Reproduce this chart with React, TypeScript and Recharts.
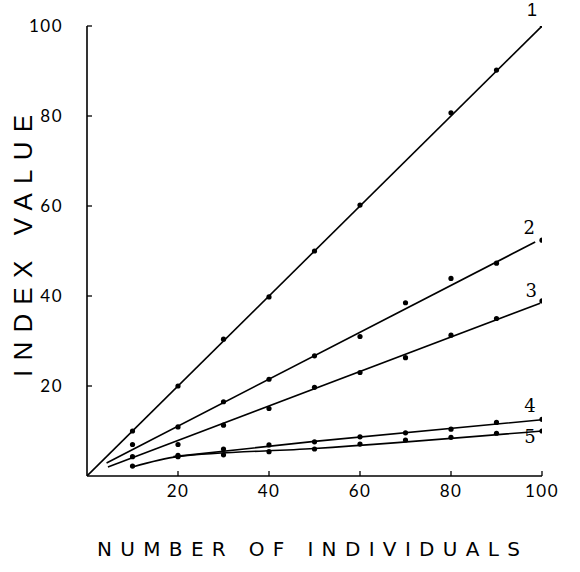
import { ComposedChart, Line, Scatter, XAxis, YAxis, Label, LabelList } from "recharts";

// sample sizes (number of individuals)
const sizes = [10, 20, 30, 40, 50, 60, 70, 80, 90, 100];

// observed index values per curve (null = no point drawn)
const index1 = [10.0, 20.0, 30.4, 39.8, 50.0, 60.2, null, 80.7, 90.2, 100.2];
const index2 = [7.0, 10.9, 16.5, 21.5, 26.7, 31.0, 38.5, 43.9, 47.3, 52.4];
const index3 = [4.3, 7.0, 11.3, 15.0, 19.7, 23.0, 26.3, 31.3, 35.0, 38.9];
const index4 = [null, 4.6, 6.0, 6.9, 7.6, 8.7, 9.6, 10.4, 11.9, 12.6];
const index5 = [2.2, 4.3, 4.7, 5.4, 6.0, 7.1, 8.0, 8.6, 9.5, 10.0];

// fitted curves
const fitX1 = [0, 100];
const fitY1 = [0, 100];
const fitX2 = [4.3, 98.5];
const fitY2 = [2.9, 52.0];
const fitX3 = [4.6, 99.6];
const fitY3 = [2.0, 38.4];
const fitX4 = [19, 50, 100];
const fitY4 = [4.3, 7.7, 12.5];
const fitX5 = [10, 20, 50, 100];
const fitY5 = [2.0, 4.3, 6.1, 10.0];

const curveNames = ["1", "2", "3", "4", "5"];
const xTicks = [20, 40, 60, 80, 100];
const yTicks = [20, 40, 60, 80, 100];

const toPoints = (vals: (number | null)[]) =>
  sizes
    .map((x, i) => ({ x, y: vals[i] }))
    .filter((p) => p.y !== null);

const toFit = (xs: number[], ys: number[]) => xs.map((x, i) => ({ x, y: ys[i] }));

const observed = [index1, index2, index3, index4, index5].map(toPoints);
const fits = [
  toFit(fitX1, fitY1),
  toFit(fitX2, fitY2),
  toFit(fitX3, fitY3),
  toFit(fitX4, fitY4),
  toFit(fitX5, fitY5),
];

// where each curve number sits relative to the curve's end
const labelOffsets = [
  { dx: -10, dy: -10 },
  { dx: -6, dy: -8 },
  { dx: -9, dy: -6 },
  { dx: -12, dy: -8 },
  { dx: -12, dy: 12 },
];

const dot = (props: any) => <circle cx={props.cx} cy={props.cy} r={2.6} fill="#000" />;

const tickStyle = { fill: "#000", fontSize: 17, fontFamily: "Lato", letterSpacing: 1.5 };

export default function App() {
  return (
    <div style={{ position: "absolute", left: 0, top: 0, background: "#fff" }}>
      <ComposedChart width={580} height={572} margin={{ top: 26, right: 38, bottom: 0, left: 0 }}>
        <XAxis
          type="number"
          dataKey="x"
          domain={[0, 100]}
          ticks={xTicks}
          height={96}
          tickSize={-5}
          tickMargin={14}
          axisLine={{ stroke: "#000", strokeWidth: 1.6 }}
          tickLine={{ stroke: "#000", strokeWidth: 1.3 }}
          tick={tickStyle}
          allowDataOverflow
        >
          <Label
            content={({ viewBox }: any) => (
              <text
                x={viewBox.x + 10}
                y={556}
                textLength={423}
                lengthAdjust="spacing"
                fontSize={20}
                fontFamily="DejaVu Sans"
                fill="#000"
              >
                NUMBER OF INDIVIDUALS
              </text>
            )}
          />
        </XAxis>
        <YAxis
          type="number"
          dataKey="y"
          domain={[0, 100]}
          ticks={yTicks}
          width={87}
          tickSize={-5}
          tickMargin={29}
          axisLine={{ stroke: "#000", strokeWidth: 1.6 }}
          tickLine={{ stroke: "#000", strokeWidth: 1.3 }}
          tick={tickStyle}
          allowDataOverflow
        >
          <Label
            content={({ viewBox }: any) => {
              const cx = 32;
              const cy = viewBox.y + viewBox.height / 2 - 5;
              return (
                <text
                  x={cx}
                  y={cy}
                  transform={`rotate(-90 ${cx} ${cy})`}
                  textAnchor="middle"
                  textLength={262}
                  lengthAdjust="spacing"
                  fontSize={26}
                  fontFamily="Liberation Sans"
                  fill="#000"
                >
                  INDEX VALUE
                </text>
              );
            }}
          />
        </YAxis>
        {fits.map((data, k) => (
          <Line
            key={`fit${k}`}
            data={data}
            dataKey="y"
            type={k >= 3 ? "monotone" : "linear"}
            stroke="#000"
            strokeWidth={1.6}
            dot={false}
            activeDot={false}
            isAnimationActive={false}
          >
            <LabelList
              dataKey="y"
              content={(p: any) =>
                p.index === data.length - 1 ? (
                  <text
                    x={p.x + labelOffsets[k].dx}
                    y={p.y + labelOffsets[k].dy}
                    textAnchor="middle"
                    fontSize={18}
                    fontFamily={k === 0 ? "Liberation Sans" : "DejaVu Serif"}
                    fill="#000"
                  >
                    {curveNames[k]}
                  </text>
                ) : null
              }
            />
          </Line>
        ))}
        {observed.map((data, k) => (
          <Scatter key={`obs${k}`} data={data} shape={dot} isAnimationActive={false} />
        ))}
      </ComposedChart>
    </div>
  );
}
